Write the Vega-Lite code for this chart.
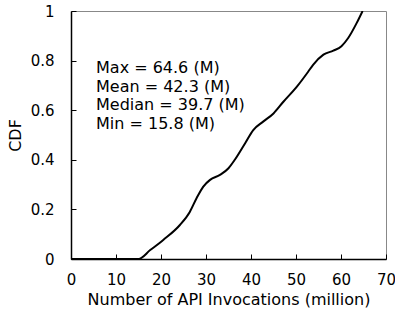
{
  "$schema": "https://vega.github.io/schema/vega-lite/v6.json",
  "width": 315,
  "height": 248,
  "autosize": {"type": "none"},
  "padding": {"left": 71, "top": 11, "right": 9, "bottom": 58},
  "background": "white",
  "config": {
    "view": {"stroke": "#888888", "strokeWidth": 1},
    "font": "DejaVu Sans",
    "axis": {
      "labelFont": "DejaVu Sans",
      "titleFont": "DejaVu Sans",
      "labelFontSize": 15,
      "titleFontSize": 16,
      "titleFontWeight": "normal",
      "labelColor": "#000000",
      "titleColor": "#000000",
      "domainColor": "#000000",
      "domainWidth": 1.5,
      "tickColor": "#000000",
      "tickWidth": 1,
      "tickSize": -5,
      "grid": false
    }
  },
  "datasets": {
    "cdf": [
      {"x": 0, "cdf": 0},
      {"x": 15.0, "cdf": 0},
      {"x": 17.6, "cdf": 0.036},
      {"x": 20.5, "cdf": 0.077},
      {"x": 24.2, "cdf": 0.137},
      {"x": 26.4, "cdf": 0.19},
      {"x": 27.9, "cdf": 0.245},
      {"x": 29.4, "cdf": 0.292},
      {"x": 30.9, "cdf": 0.319},
      {"x": 33.1, "cdf": 0.339},
      {"x": 35.0, "cdf": 0.366},
      {"x": 36.4, "cdf": 0.40},
      {"x": 38.7, "cdf": 0.467},
      {"x": 40.5, "cdf": 0.52},
      {"x": 42.7, "cdf": 0.554},
      {"x": 45.0, "cdf": 0.587},
      {"x": 47.2, "cdf": 0.634},
      {"x": 50.2, "cdf": 0.695},
      {"x": 52.7, "cdf": 0.755},
      {"x": 53.8, "cdf": 0.783},
      {"x": 56.1, "cdf": 0.824},
      {"x": 58.3, "cdf": 0.840},
      {"x": 60.1, "cdf": 0.858},
      {"x": 61.6, "cdf": 0.891},
      {"x": 63.5, "cdf": 0.952},
      {"x": 64.8, "cdf": 1.0}
    ],
    "stats": [
      {"label": "Max = 64.6 (M)", "x": 5.56, "cdf": 0.770},
      {"label": "Mean = 42.3 (M)", "x": 5.56, "cdf": 0.695},
      {"label": "Median = 39.7 (M)", "x": 5.56, "cdf": 0.620},
      {"label": "Min = 15.8 (M)", "x": 5.56, "cdf": 0.544}
    ]
  },
  "layer": [
    {
      "data": {"name": "cdf"},
      "mark": {"type": "line", "color": "#000000", "strokeWidth": 2, "interpolate": "monotone", "clip": true},
      "encoding": {
        "x": {
          "field": "x", "type": "quantitative",
          "scale": {"domain": [0, 70], "nice": false},
          "axis": {"values": [0, 10, 20, 30, 40, 50, 60, 70], "labelPadding": 18, "title": "Number of API Invocations (million)", "titlePadding": 4, "labelFlush": false}
        },
        "y": {
          "field": "cdf", "type": "quantitative",
          "scale": {"domain": [0, 1], "nice": false},
          "axis": {"values": [0, 0.2, 0.4, 0.6, 0.8, 1], "format": "~g", "labelPadding": 22, "title": "CDF", "titlePadding": 7, "labelFlush": false}
        }
      }
    },
    {
      "data": {"name": "stats"},
      "mark": {"type": "text", "align": "left", "baseline": "middle", "fontSize": 16, "font": "DejaVu Sans", "color": "#000000"},
      "encoding": {
        "x": {"field": "x", "type": "quantitative"},
        "y": {"field": "cdf", "type": "quantitative"},
        "text": {"field": "label"}
      }
    }
  ]
}
